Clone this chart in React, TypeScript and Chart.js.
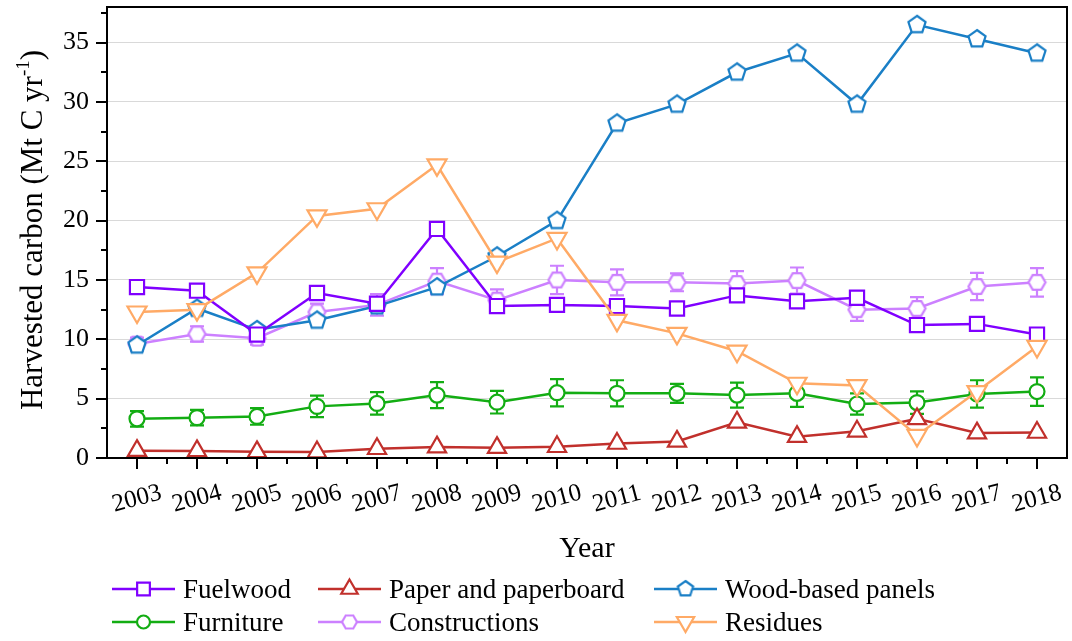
import { useEffect, useRef } from 'react';
import { Chart } from 'chart.js/auto';
import { drawPoint } from 'chart.js/helpers';

// values (Mt C per year)
const years = ['2003', '2004', '2005', '2006', '2007', '2008', '2009', '2010', '2011', '2012', '2013', '2014', '2015', '2016', '2017', '2018'];
const fuelwood = [14.4, 14.1, 10.4, 13.9, 13.0, 19.3, 12.8, 12.9, 12.8, 12.6, 13.7, 13.2, 13.5, 11.2, 11.3, 10.4];
const paper = [0.62, 0.6, 0.52, 0.5, 0.78, 0.92, 0.87, 0.95, 1.22, 1.4, 3.0, 1.8, 2.25, 3.3, 2.1, 2.15];
const woodPanels = [9.5, 12.6, 10.8, 11.6, 12.8, 14.4, 17.0, 20.0, 28.2, 29.8, 32.5, 34.1, 29.8, 36.5, 35.3, 34.1];
const furniture = [3.3, 3.4, 3.5, 4.35, 4.6, 5.3, 4.7, 5.5, 5.45, 5.45, 5.3, 5.45, 4.55, 4.67, 5.4, 5.6];
const furnitureErr = [0.65, 0.65, 0.7, 0.9, 0.95, 1.1, 0.95, 1.15, 1.1, 0.8, 1.05, 1.15, 0.9, 0.95, 1.15, 1.2];
const constructions = [9.6, 10.45, 10.1, 12.3, 12.9, 14.9, 13.3, 15.0, 14.8, 14.8, 14.7, 14.95, 12.5, 12.6, 14.45, 14.8];
const constructionsErr = [0.55, 0.65, 0.55, 0.7, 0.9, 1.1, 0.9, 1.2, 1.1, 0.75, 1.05, 1.1, 0.95, 0.95, 1.15, 1.2];
const residues = [12.3, 12.5, 15.6, 20.4, 21.0, 24.7, 16.5, 18.5, 11.6, 10.5, 9.0, 6.3, 6.1, 1.9, 5.6, 9.4];
const yTicks = [0, 5, 10, 15, 20, 25, 30, 35];

const SERIF = '"Liberation Serif", "Times New Roman", serif';

// white-filled outlined polygon used as a point style
function polygonMarker(sides: number, r: number, color: string, start: number) {
	const size = Math.ceil(2 * r + 4);
	const c = document.createElement('canvas');
	c.width = size;
	c.height = size;
	const ctx = c.getContext('2d');
	ctx.beginPath();
	for (let i = 0; i < sides; i++) {
		const a = start + (i * 2 * Math.PI) / sides;
		const px = size / 2 + r * Math.cos(a);
		const py = size / 2 + r * Math.sin(a);
		if (i === 0) ctx.moveTo(px, py);
		else ctx.lineTo(px, py);
	}
	ctx.closePath();
	ctx.fillStyle = '#fff';
	ctx.fill();
	ctx.lineWidth = 2.2;
	ctx.strokeStyle = color;
	ctx.stroke();
	return c;
}

const decorPlugin = {
	id: 'decor',
	beforeDatasetsDraw(chart) {
		const { ctx, scales } = chart;
		const x = scales.x;
		const y = scales.y;
		const bars = [
			{ data: furniture, err: furnitureErr, color: '#13ad13' },
			{ data: constructions, err: constructionsErr, color: '#cc80ff' },
		];
		ctx.save();
		ctx.lineWidth = 2.2;
		bars.forEach((b) => {
			ctx.strokeStyle = b.color;
			b.data.forEach((v, i) => {
				const px = x.getPixelForValue(i);
				const top = y.getPixelForValue(v + b.err[i]);
				const bot = y.getPixelForValue(v - b.err[i]);
				ctx.beginPath();
				ctx.moveTo(px, top);
				ctx.lineTo(px, bot);
				ctx.moveTo(px - 7, top);
				ctx.lineTo(px + 7, top);
				ctx.moveTo(px - 7, bot);
				ctx.lineTo(px + 7, bot);
				ctx.stroke();
			});
		});
		ctx.restore();
	},
	afterDraw(chart) {
		const { ctx, chartArea: a, scales } = chart;
		const x = scales.x;
		const y = scales.y;
		ctx.save();

		// frame
		ctx.strokeStyle = '#000';
		ctx.lineWidth = 2;
		ctx.strokeRect(a.left, a.top, a.right - a.left, a.bottom - a.top);

		// y ticks (major + minor)
		ctx.beginPath();
		for (let v = 0; v <= 37.5; v += 2.5) {
			const py = Math.round(y.getPixelForValue(v));
			const len = v % 5 === 0 ? 11 : 6;
			ctx.moveTo(a.left, py);
			ctx.lineTo(a.left - len, py);
		}
		// x ticks
		years.forEach((_, i) => {
			const px = Math.round(x.getPixelForValue(i));
			ctx.moveTo(px, a.bottom);
			ctx.lineTo(px, a.bottom + 11);
			if (i < years.length - 1) {
				const mx = Math.round(x.getPixelForValue(i + 0.5));
				ctx.moveTo(mx, a.bottom);
				ctx.lineTo(mx, a.bottom + 6);
			}
		});
		ctx.stroke();

		// x tick labels, slightly rotated
		ctx.fillStyle = '#000';
		ctx.font = `25px ${SERIF}`;
		ctx.textAlign = 'center';
		ctx.textBaseline = 'middle';
		years.forEach((lab, i) => {
			ctx.save();
			ctx.translate(x.getPixelForValue(i), a.bottom + 41);
			ctx.rotate((-15 * Math.PI) / 180);
			ctx.fillText(lab, 0, 0);
			ctx.restore();
		});

		// x title
		ctx.textBaseline = 'alphabetic';
		ctx.font = `30px ${SERIF}`;
		ctx.fillText('Year', (a.left + a.right) / 2, 557);

		// y title with superscript
		ctx.save();
		ctx.translate(42, 230);
		ctx.rotate(-Math.PI / 2);
		ctx.textAlign = 'left';
		const main = 'Harvested carbon (Mt C yr';
		const sup = '-1';
		const tail = ')';
		ctx.font = `31px ${SERIF}`;
		const w1 = ctx.measureText(main).width;
		const w3 = ctx.measureText(tail).width;
		ctx.font = `19px ${SERIF}`;
		const w2 = ctx.measureText(sup).width;
		let sx = -(w1 + w2 + w3) / 2;
		ctx.font = `31px ${SERIF}`;
		ctx.fillText(main, sx, 0);
		sx += w1;
		ctx.font = `19px ${SERIF}`;
		ctx.fillText(sup, sx, -13);
		sx += w2;
		ctx.font = `31px ${SERIF}`;
		ctx.fillText(tail, sx, 0);
		ctx.restore();

		// legend
		const cols = [112, 318, 654];
		const rows = [589, 622];
		const order = ['Fuelwood', 'Paper and paperboard', 'Wood-based panels', 'Furniture', 'Constructions', 'Residues'];
		ctx.font = `27px ${SERIF}`;
		ctx.textAlign = 'left';
		ctx.textBaseline = 'alphabetic';
		order.forEach((name, k) => {
			const ds = chart.data.datasets.find((d) => d.label === name);
			const lx = cols[k % 3];
			const ly = rows[Math.floor(k / 3)];
			ctx.strokeStyle = ds.borderColor;
			ctx.lineWidth = 2.4;
			ctx.beginPath();
			ctx.moveTo(lx, ly);
			ctx.lineTo(lx + 63, ly);
			ctx.stroke();
			ctx.fillStyle = '#fff';
			ctx.lineWidth = 2.2;
			drawPoint(ctx, {
				pointStyle: ds.legendStyle || ds.pointStyle,
				radius: ds.pointRadius - 1,
				rotation: ds.pointRotation || 0,
				borderWidth: 2.2,
			}, lx + 31.5, ly);
			ctx.fillStyle = '#000';
			ctx.fillText(name, lx + 71, ly + 9);
		});

		ctx.restore();
	},
};

export default function App() {
	const canvasRef = useRef(null);

	useEffect(() => {
		document.body.style.margin = '0';
		if (!canvasRef.current) return;

		const mk = (label, data, color, pointStyle, pointRadius, order, pointRotation = 0) => ({
			label,
			data,
			borderColor: color,
			backgroundColor: '#fff',
			borderWidth: 2.5,
			pointStyle,
			pointRadius,
			pointRotation,
			pointBackgroundColor: '#fff',
			pointBorderColor: color,
			pointBorderWidth: 2.2,
			tension: 0,
			fill: false,
			order,
		});

		const pentagon = polygonMarker(5, 9, '#1a7fc6', -Math.PI / 2);
		const hexagon = polygonMarker(6, 8.5, '#cc80ff', 0);
		const datasets = [
			mk('Fuelwood', fuelwood, '#8000ff', 'rect', 10, 2),
			mk('Paper and paperboard', paper, '#c1302c', 'triangle', 10.5, 4),
			mk('Wood-based panels', woodPanels, '#1a7fc6', pentagon, 9, 3),
			mk('Furniture', furniture, '#13ad13', 'circle', 7.5, 5),
			mk('Constructions', constructions, '#cc80ff', hexagon, 8.5, 6),
			mk('Residues', residues, '#ffaa66', 'triangle', 11, 1, 180),
		];
		datasets[2].legendStyle = polygonMarker(5, 8, '#1a7fc6', -Math.PI / 2);
		datasets[4].legendStyle = polygonMarker(6, 7.5, '#cc80ff', 0);

		const chart = new Chart(canvasRef.current, {
			type: 'line',
			data: { labels: years, datasets },
			options: {
				animation: false,
				responsive: true,
				maintainAspectRatio: false,
				layout: { autoPadding: false, padding: { top: 7, right: 5, left: 0, bottom: 0 } },
				plugins: {
					legend: { display: false },
					tooltip: { enabled: false },
				},
				scales: {
					x: {
						type: 'category',
						offset: true,
						grid: { display: false },
						border: { display: false },
						ticks: { display: false },
						afterFit(scale) {
							scale.height = 183;
							scale.paddingLeft = 0;
							scale.paddingRight = 0;
						},
					},
					y: {
						min: 0,
						max: 38,
						afterBuildTicks(scale) {
							scale.ticks = yTicks.map((v) => ({ value: v }));
						},
						grid: { color: '#d9d9d9', lineWidth: 1, drawTicks: false },
						border: { display: false },
						ticks: {
							color: '#000',
							padding: 18,
							font: { family: SERIF, size: 26 },
						},
						afterFit(scale) {
							scale.width = 107;
							scale.paddingTop = 0;
							scale.paddingBottom = 0;
						},
					},
				},
			},
			plugins: [decorPlugin],
		});

		return () => chart.destroy();
	}, []);

	return (
		<div style={{ width: 1072, height: 641, position: 'relative', background: '#fff' }}>
			<canvas ref={canvasRef} />
		</div>
	);
}
